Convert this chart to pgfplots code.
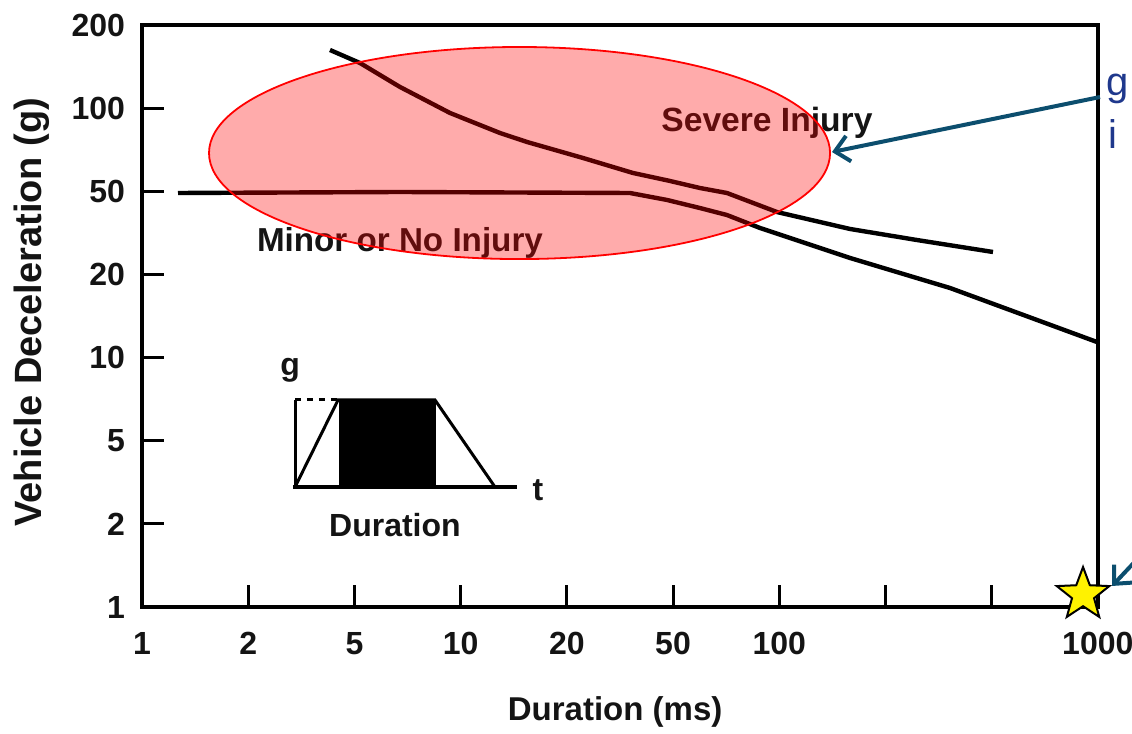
\documentclass[border=0pt]{standalone}
\usepackage{fontspec}
\setmainfont{Liberation Sans}
\usepackage{pgfplots}
\pgfplotsset{compat=1.18}
\usetikzlibrary{arrows.meta}

\definecolor{arrowblue}{RGB}{12,78,110}
\definecolor{textnavy}{RGB}{31,56,140}
\definecolor{labelgray}{RGB}{20,20,20}

\pgfdeclareplotmark{fivestar}{%
  \pgfpathmoveto{\pgfpointpolar{90}{\pgfplotmarksize}}%
  \pgfpathlineto{\pgfpointpolar{126}{0.42\pgfplotmarksize}}%
  \pgfpathlineto{\pgfpointpolar{162}{\pgfplotmarksize}}%
  \pgfpathlineto{\pgfpointpolar{198}{0.42\pgfplotmarksize}}%
  \pgfpathlineto{\pgfpointpolar{234}{\pgfplotmarksize}}%
  \pgfpathlineto{\pgfpointpolar{270}{0.42\pgfplotmarksize}}%
  \pgfpathlineto{\pgfpointpolar{306}{\pgfplotmarksize}}%
  \pgfpathlineto{\pgfpointpolar{342}{0.42\pgfplotmarksize}}%
  \pgfpathlineto{\pgfpointpolar{18}{\pgfplotmarksize}}%
  \pgfpathlineto{\pgfpointpolar{54}{0.42\pgfplotmarksize}}%
  \pgfpathclose
  \pgfusepathqfillstroke}

% Positions on the chart's 1-2-5 scale: x index 0..9 = 1,2,5,10,20,50,100,200,500,1000 ms
% y index 0..7 = 1,2,5,10,20,50,100,200 g
\pgfplotstableread{
x y
1.770 6.703
2.053 6.546
2.429 6.258
2.900 5.945
3.371 5.704
3.625 5.596
4.153 5.403
4.623 5.223
4.960 5.130
5.254 5.042
5.508 4.982
5.979 4.753
6.667 4.549
7.298 4.416
8.013 4.272
}\severe
\pgfplotstableread{
x y
0.339 4.982
2.429 4.994
4.595 4.982
4.944 4.898
5.254 4.801
5.508 4.717
5.819 4.561
6.667 4.200
7.608 3.839
8.992 3.189
}\minor

\begin{document}
\begin{tikzpicture}
\useasboundingbox (0,0) rectangle (566bp,367bp);
\begin{axis}[
  at={(71bp,63.5bp)}, anchor=south west,
  scale only axis, width=477.9bp, height=290.85bp,
  xmin=0, xmax=9, ymin=0, ymax=7,
  xtick={0,...,9}, xticklabels={1,2,5,10,20,50,100,,,1000},
  ytick={0,...,7}, yticklabels={1,2,5,10,20,50,100,200},
  tick align=inside, tick pos=left, major tick length=11bp,
  axis line style={line width=1.8bp},
  every tick/.style={line width=1.5bp, black},
  /pgf/number format/assume math mode=true,
  tick label style={font=\bfseries\fontsize{16bp}{16bp}\selectfont, text=labelgray},
  xticklabel style={yshift=-9bp},
  yticklabel style={xshift=-5bp},
  xlabel={Duration (ms)}, ylabel={Vehicle Deceleration (g)},
  xlabel style={at={(axis description cs:0.495,-0.18)}, anchor=center,
    font=\bfseries\fontsize{16.5bp}{16.5bp}\selectfont, text=labelgray},
  ylabel style={at={(axis description cs:-0.115,0.507)}, anchor=center,
    font=\bfseries\fontsize{19bp}{19bp}\selectfont, text=labelgray},
  clip=false,
]
% boundary curves
\addplot[black, line width=2.2bp, line join=round] table[x=x,y=y] {\severe};
\addplot[black, line width=2.2bp, line join=round] table[x=x,y=y] {\minor};

% labels in plot
\node[font=\bfseries\fontsize{16.8bp}{16.8bp}\selectfont, text=labelgray] at (axis cs:5.885,5.824) {Severe Injury};
\node[font=\bfseries\fontsize{16.6bp}{16.6bp}\selectfont, text=labelgray] at (axis cs:2.429,4.380) {Minor or No Injury};

% inset pulse schematic
\addplot[black, line width=1.8bp] coordinates {(1.422,1.444) (3.531,1.444)};
\addplot[black, line width=1.5bp] coordinates {(1.441,1.444) (1.441,2.491)};
\addplot[black, line width=1.5bp, dashed] coordinates {(1.441,2.491) (1.846,2.491)};
\addplot[black, line width=1.5bp] coordinates {(1.441,1.444) (1.846,2.491) (2.759,2.491) (3.324,1.444)};
\addplot[black, fill=black, line width=0.5bp] coordinates {(1.855,1.444) (1.855,2.491) (2.759,2.491) (2.759,1.444)} -- cycle;
\node[font=\bfseries\fontsize{16bp}{16bp}\selectfont, text=labelgray] at (axis cs:1.394,2.852) {g};
\node[font=\bfseries\fontsize{16bp}{16bp}\selectfont, text=labelgray] at (axis cs:3.729,1.408) {t};
\node[font=\bfseries\fontsize{16bp}{16bp}\selectfont, text=labelgray] at (axis cs:2.382,0.987) {Duration};

% highlighted region
\draw[red, line width=0.9bp, fill=red, fill opacity=0.33, draw opacity=1]
  (axis cs:3.555,5.463) ellipse [x radius=2.924, y radius=1.276];

% annotation
\draw[arrowblue, line width=2bp, -{Straight Barb[length=7bp, width=13bp, line width=2bp]}]
  (axis cs:9.021,6.137) -- (axis cs:6.497,5.475);
\draw[arrowblue, line width=2bp, -{Straight Barb[length=7bp, width=13bp, line width=2bp]}]
  (axis cs:9.50,0.75) -- (axis cs:9.134,0.253);
\node[anchor=base west, inner sep=0pt, text=textnavy, font=\fontsize{20bp}{20bp}\selectfont] at (axis cs:9.08,6.161) {g};
\node[anchor=base west, inner sep=0pt, text=textnavy, font=\fontsize{20bp}{20bp}\selectfont] at (axis cs:9.10,5.523) {i};

% marked point
\addplot[only marks, mark=fivestar, mark size=13.8bp,
  mark options={fill=yellow, draw=black, line width=1bp}] coordinates {(8.861,0.149)};
\end{axis}
\end{tikzpicture}
\end{document}
